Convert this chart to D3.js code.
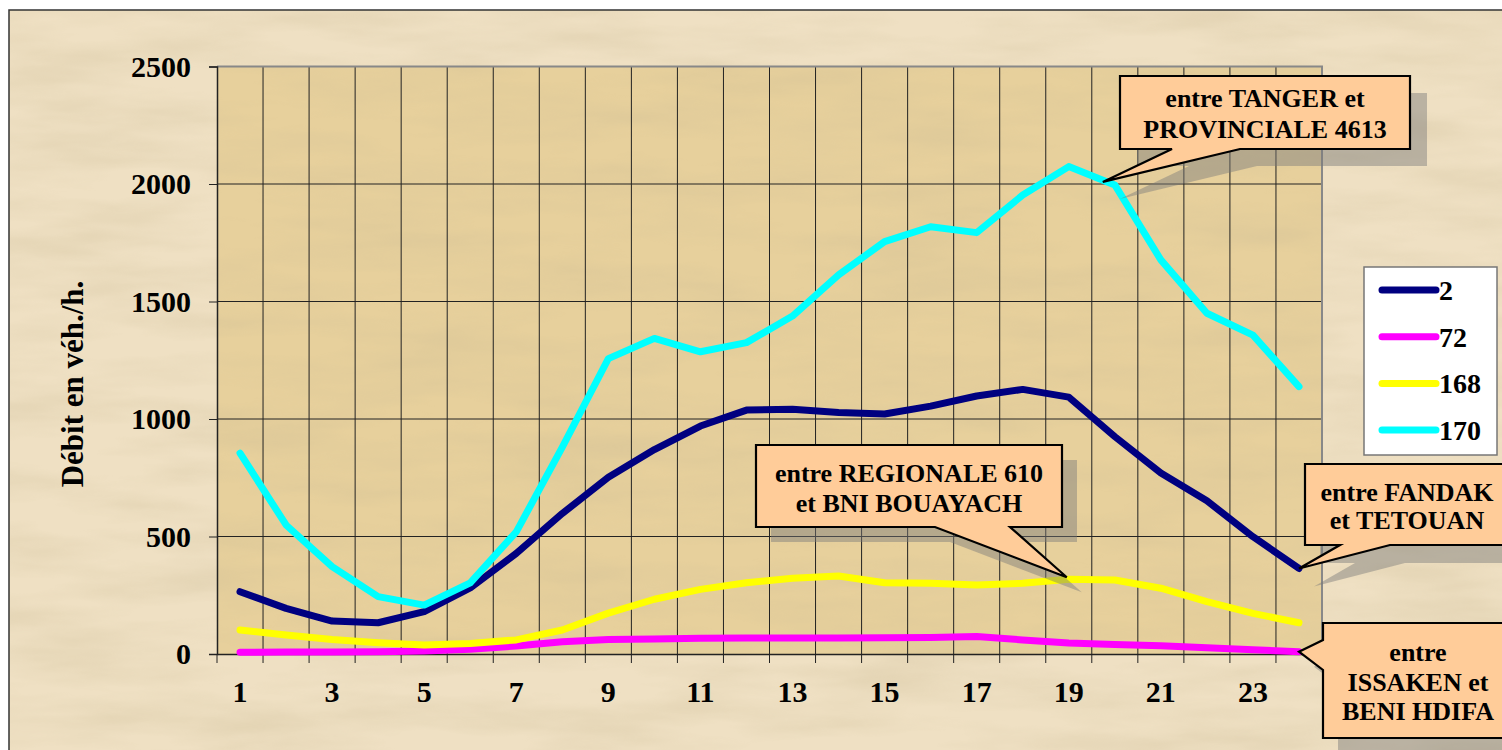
<!DOCTYPE html>
<html>
<head>
<meta charset="utf-8">
<script src="https://cdn.jsdelivr.net/npm/d3@7"></script>
<style>
  html, body { margin: 0; padding: 0; background: #fff; }
  svg { display: block; }
  text { font-family: "Liberation Serif", "Times New Roman", "DejaVu Serif", serif !important; font-weight: bold; fill: #000; }
</style>
</head>
<body>
<div id="chart"></div>
<script>
// hours of the day (x categories)
const hours = [1, 2, 3, 4, 5, 6, 7, 8, 9, 10, 11, 12, 13, 14, 15, 16, 17, 18, 19, 20, 21, 22, 23, 24];
const xTickLabels = [1, 3, 5, 7, 9, 11, 13, 15, 17, 19, 21, 23];
const yTicks = [0, 500, 1000, 1500, 2000, 2500];

// series values, veh/h
const seriesNames = ["2", "72", "168", "170"];
const s2   = [265, 194, 140, 133, 180, 281, 428, 598, 752, 870, 970, 1038, 1041, 1028, 1021, 1055, 1098, 1126, 1093, 925, 770, 652, 499, 364];
const s72  = [7, 8, 9, 10, 13, 20, 34, 52, 62, 64, 67, 68, 68, 68, 69, 70, 74, 60, 47, 40, 35, 27, 18, 10];
const s168 = [102, 81, 62, 48, 38, 45, 60, 102, 174, 233, 275, 303, 322, 332, 303, 301, 294, 301, 318, 315, 280, 223, 173, 133];
const s170 = [855, 549, 372, 244, 208, 303, 520, 880, 1257, 1343, 1286, 1325, 1438, 1613, 1755, 1818, 1793, 1953, 2074, 1996, 1677, 1450, 1357, 1138];
const seriesColors = ["#000080", "#FF00FF", "#FFFF00", "#00FFFF"];

const W = 1502, H = 750;
const plot = { left: 217, right: 1322, top: 66.5, bottom: 654 };

const svg = d3.select("#chart").append("svg")
    .attr("width", W).attr("height", H);

// parchment-ish texture
const defs = svg.append("defs");
const f = defs.append("filter").attr("id", "paper")
    .attr("x", 0).attr("y", 0).attr("width", 1).attr("height", 1);
f.append("feTurbulence").attr("type", "fractalNoise")
    .attr("baseFrequency", "0.006 0.03").attr("numOctaves", 4).attr("seed", 7);
f.append("feColorMatrix").attr("type", "matrix")
    .attr("values", "0 0 0 0 0.6  0 0 0 0 0.5  0 0 0 0 0.3  1.2 0 0 0 -0.45");
f.append("feComposite").attr("in2", "SourceGraphic").attr("operator", "in");

// outer frame
svg.append("rect").attr("x", 9).attr("y", 10).attr("width", W).attr("height", H)
    .attr("fill", "#EFE0C3").attr("stroke", "#333").attr("stroke-width", 1.5);
svg.append("rect").attr("x", 10).attr("y", 11).attr("width", W).attr("height", H)
    .attr("fill", "#EFE0C3").attr("filter", "url(#paper)").attr("opacity", 0.5);

const x = d3.scaleBand().domain(hours).range([plot.left, plot.right]).padding(0);
const y = d3.scaleLinear().domain([0, 2500]).range([plot.bottom, plot.top]);
const cx = d => x(d) + x.bandwidth() / 2;

// plot area
svg.append("rect")
    .attr("x", plot.left).attr("y", plot.top)
    .attr("width", plot.right - plot.left).attr("height", plot.bottom - plot.top)
    .attr("fill", "#E7D09C");
svg.append("rect")
    .attr("x", plot.left).attr("y", plot.top)
    .attr("width", plot.right - plot.left).attr("height", plot.bottom - plot.top)
    .attr("fill", "#E7D09C").attr("filter", "url(#paper)").attr("opacity", 0.5);

// grid
const grid = svg.append("g");
grid.selectAll(".vg").data(hours.slice(1))
    .enter().append("line")
    .attr("x1", d => x(d)).attr("x2", d => x(d))
    .attr("y1", plot.top).attr("y2", plot.bottom)
    .attr("stroke", "#222").attr("stroke-width", 1);
grid.selectAll(".hg").data(yTicks.filter(v => v > 0 && v < 2500))
    .enter().append("line")
    .attr("x1", plot.left).attr("x2", plot.right)
    .attr("y1", d => y(d)).attr("y2", d => y(d))
    .attr("stroke", "#222").attr("stroke-width", 1);
// gray top/right border
svg.append("path")
    .attr("d", `M${plot.left},${plot.top}H${plot.right}V${plot.bottom}`)
    .attr("fill", "none").attr("stroke", "#888").attr("stroke-width", 2);

// y axis
const yAxis = svg.append("g")
    .attr("transform", `translate(${plot.left},0)`)
    .call(d3.axisLeft(y).tickValues(yTicks).tickSize(8).tickPadding(18).tickFormat(d3.format("d")));
yAxis.attr("font-family", null);
yAxis.select(".domain").attr("stroke", "#222").attr("stroke-width", 1.5);
yAxis.selectAll(".tick line").attr("stroke", "#222");
yAxis.selectAll(".tick text").style("font-size", "30px").attr("fill", "#000");

// x axis
const xAxis = svg.append("g")
    .attr("transform", `translate(0,${plot.bottom})`)
    .call(d3.axisBottom(x).tickValues([]).tickSizeOuter(0));
xAxis.attr("font-family", null);
xAxis.select(".domain").attr("stroke", "#222").attr("stroke-width", 1.5);
xAxis.selectAll(".xt").data(hours.concat([null]))
    .enter().append("line")
    .attr("x1", (d, i) => i < hours.length ? x(d) : plot.right)
    .attr("x2", (d, i) => i < hours.length ? x(d) : plot.right)
    .attr("y1", 0).attr("y2", 9)
    .attr("stroke", "#222");
xAxis.selectAll(".xl").data(xTickLabels)
    .enter().append("text")
    .attr("x", d => cx(d)).attr("y", 48)
    .attr("text-anchor", "middle")
    .style("font-size", "30px")
    .text(d => d);

// y label
svg.append("text")
    .attr("transform", "translate(83,384) rotate(-90)")
    .attr("text-anchor", "middle")
    .style("font-size", "31px")
    .text("Débit en véh./h.");

// lines
const allSeries = [s2, s72, s168, s170];
const line = d3.line().x((d, i) => cx(hours[i])).y(d => y(d));
svg.append("g").selectAll("path").data(allSeries)
    .enter().append("path")
    .attr("d", d => line(d))
    .attr("fill", "none")
    .attr("stroke", (d, i) => seriesColors[i])
    .attr("stroke-width", 7)
    .attr("stroke-linejoin", "round")
    .attr("stroke-linecap", "round");

// legend
const lg = svg.append("g");
lg.append("rect").attr("x", 1364).attr("y", 267).attr("width", 133).attr("height", 188)
    .attr("fill", "#fff").attr("stroke", "#777").attr("stroke-width", 1.5);
seriesNames.forEach((name, i) => {
    const ly = 290 + i * 46.7;
    lg.append("line").attr("x1", 1382).attr("x2", 1436).attr("y1", ly).attr("y2", ly)
        .attr("stroke", seriesColors[i]).attr("stroke-width", 7).attr("stroke-linecap", "round");
    lg.append("text").attr("x", 1439).attr("y", ly + 10).style("font-size", "28px").text(name);
});

// callouts
const callouts = [
    { lines: ["entre TANGER et", "PROVINCIALE 4613"], box: [1120, 76, 1410, 149], series: s170, hour: 20, dx: -12, dy: -3,
      base: "bottom", b1: 1172, b2: 1240, shadow: [17, 17], tx: 1265, ty: [98, 129] },
    { lines: ["entre REGIONALE 610", "et BNI BOUAYACH"], box: [756, 445, 1062, 527], series: s168, hour: 19, dx: -2, dy: -2,
      base: "bottom", b1: 935, b2: 1010, shadow: [15, 15], tx: 909, ty: [473, 503] },
    { lines: ["entre FANDAK", "et TETOUAN"], box: [1305, 464, 1520, 545], series: s2, hour: 24, dx: 0, dy: 0,
      base: "bottom", b1: 1340, b2: 1390, shadow: [15, 18], tx: 1407, ty: [492, 520] },
    { lines: ["entre", "ISSAKEN et", "BENI HDIFA"], box: [1323, 623, 1520, 738], series: s72, hour: 24, dx: 0, dy: 0,
      base: "left", b1: 640, b2: 670, shadow: [15, 15], tx: 1418, ty: [652, 682, 711] }
];

function calloutPath(c) {
    const [x0, y0, x1, y1] = c.box;
    const tipX = cx(c.hour) + c.dx;
    const tipY = y(c.series[hours.indexOf(c.hour)]) + c.dy;
    if (c.base === "bottom") {
        const lo = Math.min(c.b1, c.b2), hi = Math.max(c.b1, c.b2);
        return `M${x0},${y0}H${x1}V${y1}H${hi}L${tipX},${tipY}L${lo},${y1}H${x0}Z`;
    }
    return `M${x0},${y0}H${x1}V${y1}H${x0}V${c.b2}L${tipX},${tipY}L${x0},${c.b1}Z`;
}

const cg = svg.append("g");
callouts.forEach(c => {
    cg.append("path").attr("d", calloutPath(c))
        .attr("transform", `translate(${c.shadow[0]},${c.shadow[1]})`)
        .attr("fill", "#7a7a7a").attr("opacity", 0.45);
});
callouts.forEach(c => {
    cg.append("path").attr("d", calloutPath(c))
        .attr("fill", "#FFCC99").attr("stroke", "#000").attr("stroke-width", 2.2)
        .attr("stroke-linejoin", "miter");
    c.lines.forEach((t, i) => {
        cg.append("text").attr("x", c.tx).attr("y", c.ty[i] + 9)
            .attr("text-anchor", "middle").style("font-size", "26px").text(t);
    });
});
</script>
</body>
</html>
